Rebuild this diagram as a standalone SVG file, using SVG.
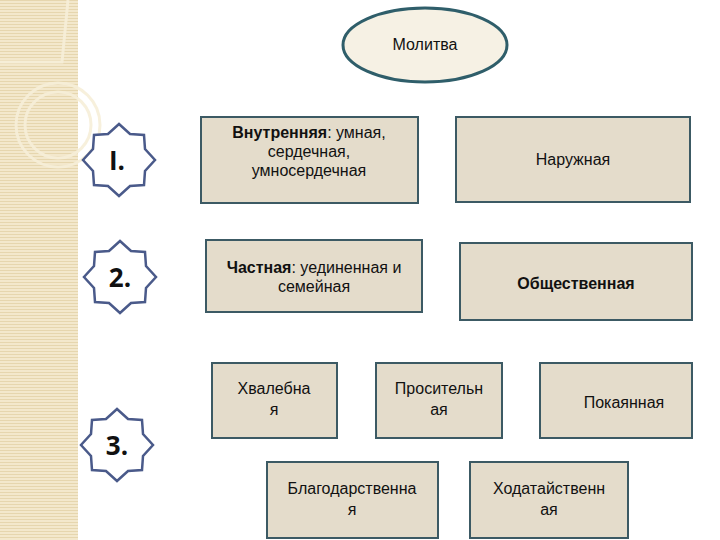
<svg xmlns="http://www.w3.org/2000/svg" width="720" height="540" viewBox="0 0 720 540">
<defs>
<pattern id="st" width="4" height="3" patternUnits="userSpaceOnUse"><rect width="4" height="3" fill="#f3e8cc"/><rect width="4" height="1" fill="#e6d6ae"/></pattern>
<polygon id="star" points="0,-36 11,-26 25,-25 26,-11 36,0 26,11 25,25 11,26 0,36 -11,26 -25,25 -26,11 -36,0 -26,-11 -25,-25 -11,-26"/>
</defs>
<style>
.b{fill:#e4dccb;stroke:#3c5a64;stroke-width:2}
.s{fill:#fff;stroke:#4a5a8a;stroke-width:2.5}
.t{font-family:"Liberation Sans",Arial,sans-serif;font-size:16px;fill:#111;text-anchor:middle}
.n{font-family:"Open Sans","DejaVu Sans",sans-serif;font-weight:bold;font-size:26px;fill:#111;text-anchor:middle}
</style>
<rect x="0" y="0" width="78" height="540" fill="url(#st)"/>
<g fill="none" stroke="#f7efd9" stroke-width="3" opacity="0.9">
<path d="M0,62 H62 L68,0"/>
<circle cx="58" cy="125" r="42"/>
<circle cx="58" cy="125" r="33"/>
</g>
<g id="n0"><ellipse cx="425" cy="45" rx="82" ry="37" fill="#f6f1e4" stroke="#2f5e6a" stroke-width="3"/><text class="t" x="425" y="50" font-size="15">Молитва</text></g>
<g id="s1"><use href="#star" class="s" x="119" y="160"/><text class="n" x="117" y="170">I.</text></g>
<g id="s2"><use href="#star" class="s" x="120" y="277"/><text class="n" x="120" y="287">2.</text></g>
<g id="s3"><use href="#star" class="s" x="117" y="445"/><text class="n" x="117" y="455">3.</text></g>
<g id="b1"><rect class="b" x="201" y="117" width="217" height="86"/><text class="t" x="309" y="138"><tspan font-weight="bold">Внутренняя</tspan>:  умная,</text><text class="t" x="309" y="157">сердечная,</text><text class="t" x="309" y="176">умносердечная</text></g>
<g id="b2"><rect class="b" x="456" y="117" width="234" height="85"/><text class="t" x="573" y="165">Наружная</text></g>
<g id="b3"><rect class="b" x="206" y="240" width="216" height="72"/><text class="t" x="314" y="273"><tspan font-weight="bold">Частная</tspan>: уединенная и</text><text class="t" x="314" y="292">семейная</text></g>
<g id="b4"><rect class="b" x="460" y="243" width="232" height="77"/><text class="t" x="576" y="289" font-weight="bold">Общественная</text></g>
<g id="b5"><rect class="b" x="212" y="363" width="125" height="75"/><text class="t" x="274" y="394">Хвалебна</text><text class="t" x="274" y="415">я</text></g>
<g id="b6"><rect class="b" x="376" y="363" width="126" height="75"/><text class="t" x="439" y="394">Просительн</text><text class="t" x="439" y="415">ая</text></g>
<g id="b7"><rect class="b" x="540" y="363" width="152" height="75"/><text class="t" x="624" y="408">Покаянная</text></g>
<g id="b8"><rect class="b" x="267" y="462" width="171" height="76"/><text class="t" x="352" y="494">Благодарственна</text><text class="t" x="352" y="515">я</text></g>
<g id="b9"><rect class="b" x="470" y="462" width="158" height="76"/><text class="t" x="549" y="494">Ходатайственн</text><text class="t" x="549" y="515">ая</text></g>
<g id="connectors"/>
</svg>
